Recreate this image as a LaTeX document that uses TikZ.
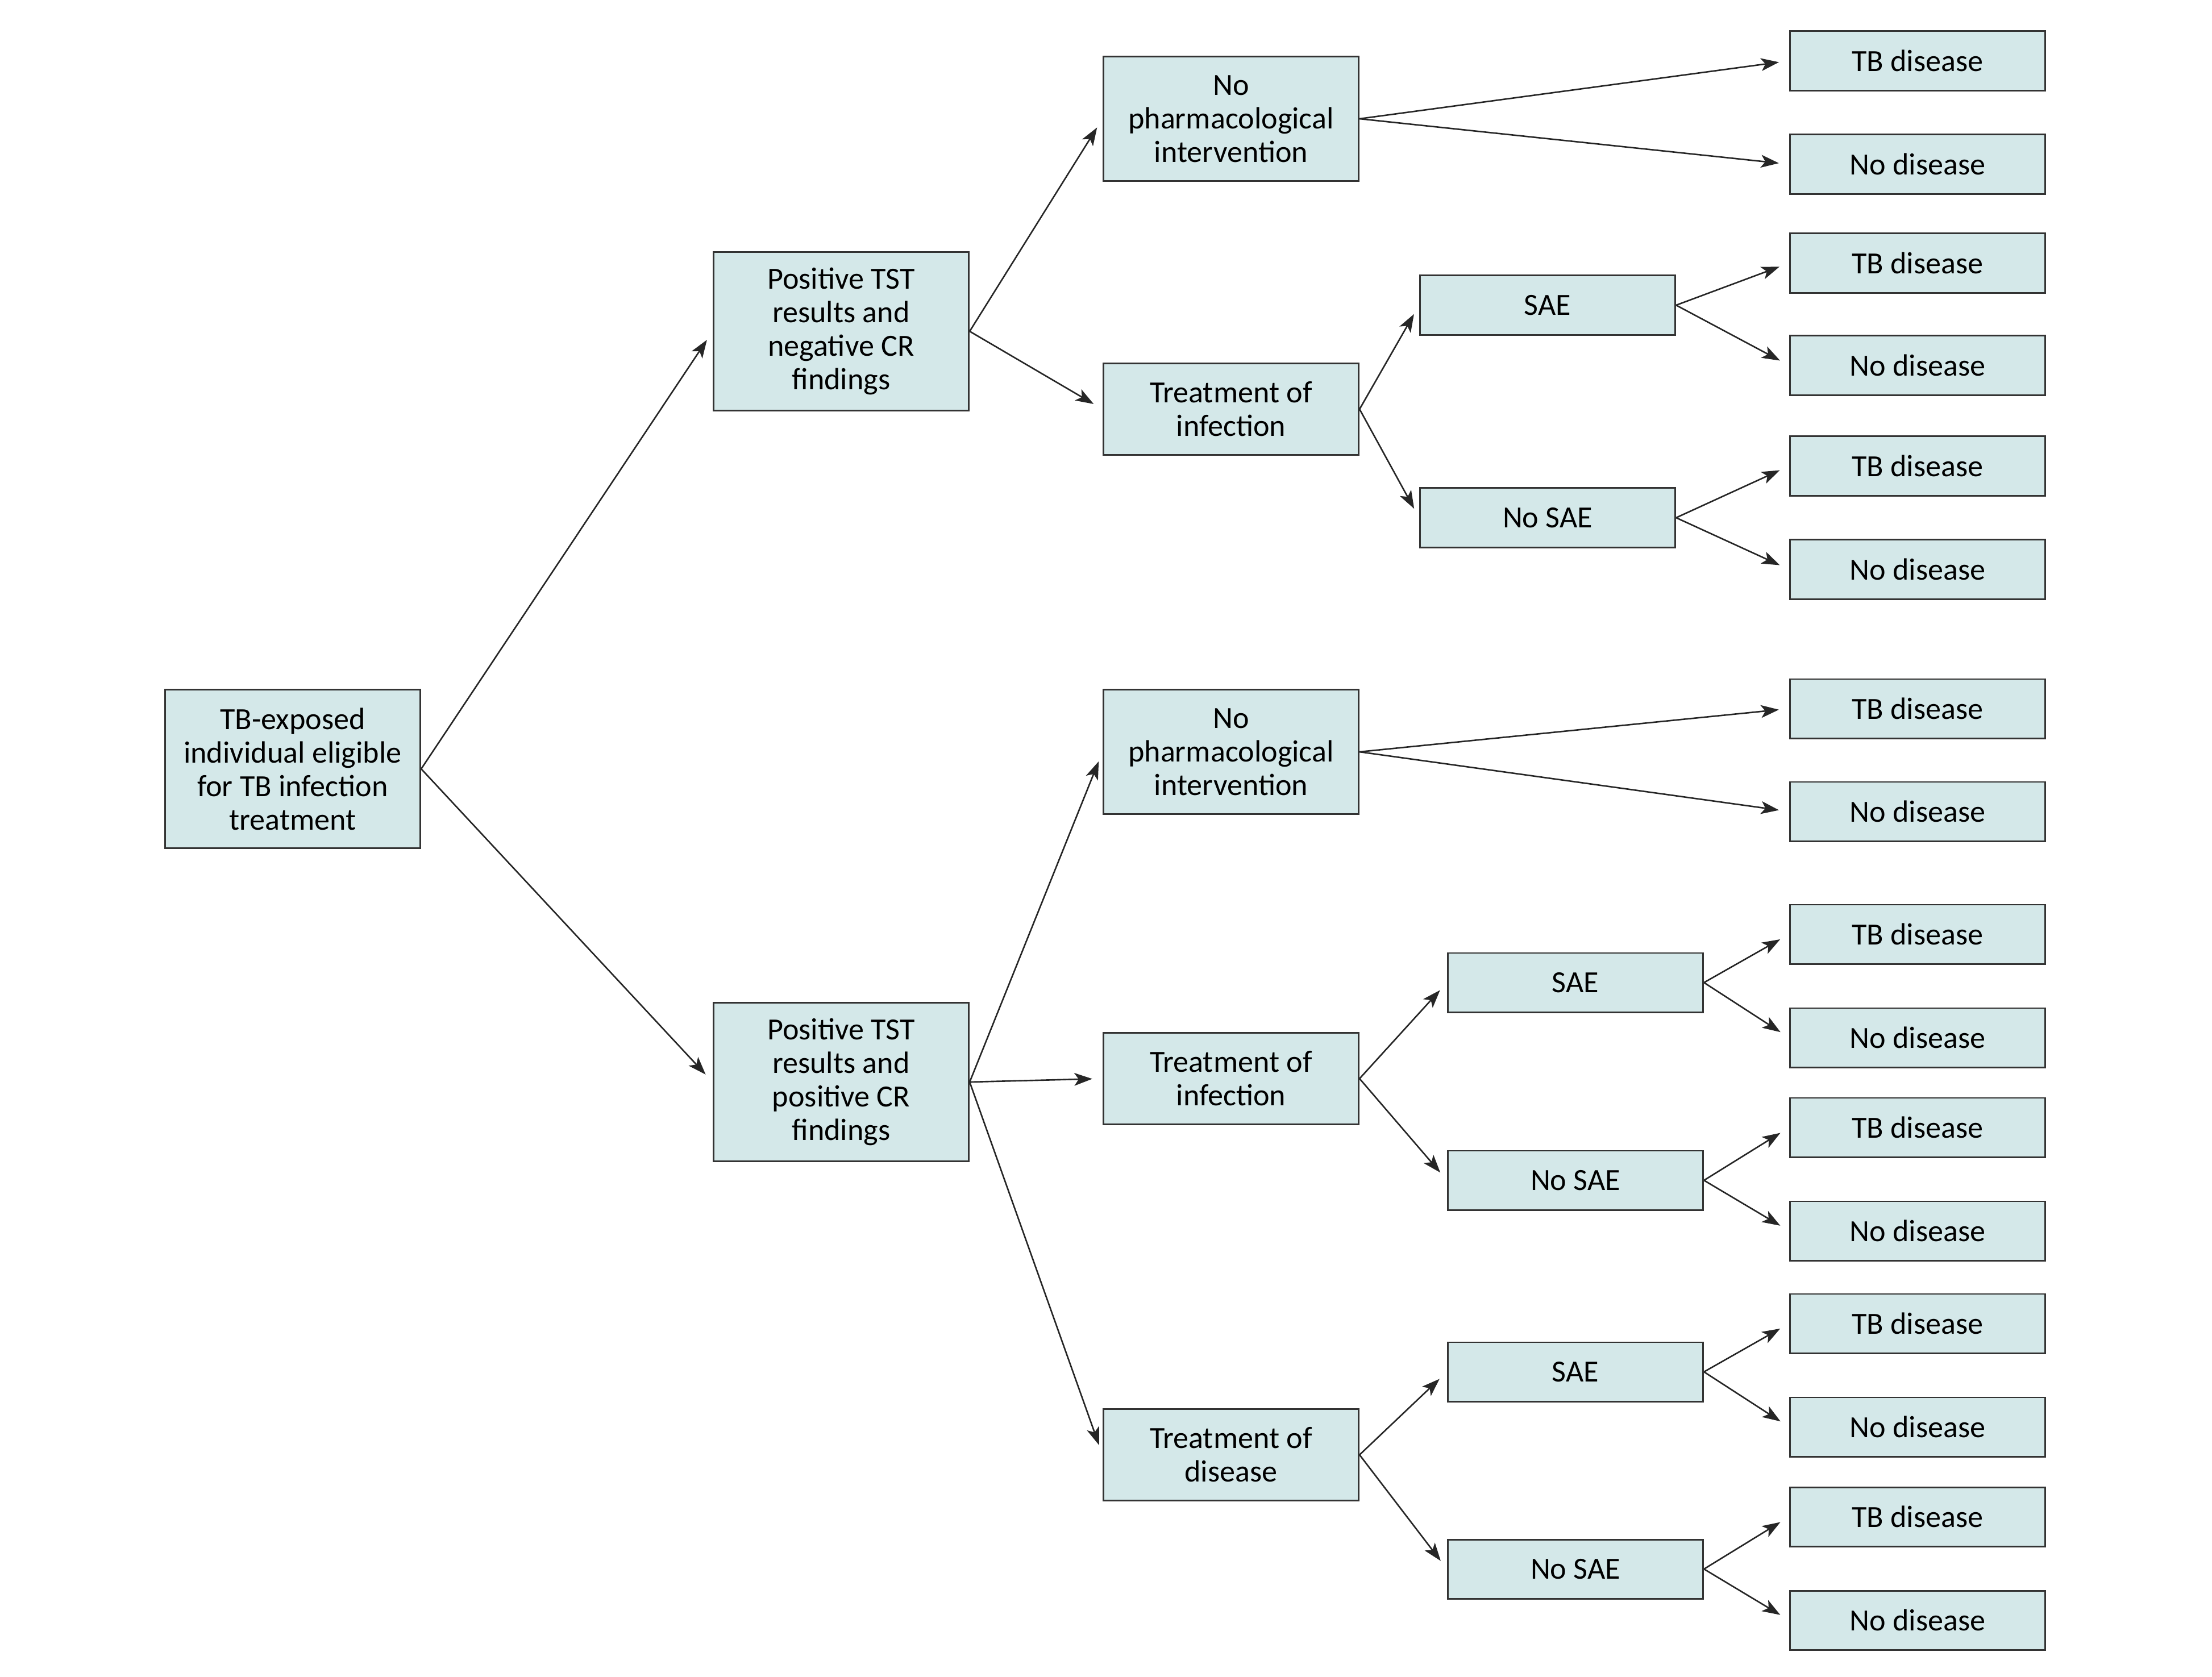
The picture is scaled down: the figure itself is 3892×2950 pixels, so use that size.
\documentclass[tikz,border=0pt]{standalone}
\usepackage{fontspec}
\setmainfont{Carlito}
\usetikzlibrary{arrows.meta}

\definecolor{boxFill}{HTML}{D4E8E9}
\colorlet{boxLine}{black!80}
\colorlet{arrLine}{black!85}

\tikzset{
  box/.style={draw=boxLine, line width=0.85pt, fill=boxFill, align=center,
              minimum width=4.49cm, inner sep=2pt,
              font=\fontsize{15.4}{16.8}\selectfont},
  leaf/.style={box, minimum height=1.04cm},
  arr/.style={draw=arrLine, line width=0.75pt, shorten >=0.18cm,
              -{Stealth[length=9pt, width=6.4pt, inset=2.2pt]}}
}

\begin{document}
\begin{tikzpicture}[x=0.01cm, y=-0.01cm]
        \useasboundingbox (0,0) rectangle (3892,2950);
        % root and test results
        \node[box, minimum height=2.78cm] (root) at (515,1353)
              {TB-exposed\\individual eligible\\for TB infection\\treatment};
        \node[box, minimum height=2.78cm] (p1) at (1480,583)
              {Positive TST\\results and\\negative CR\\findings};
        \node[box, minimum height=2.78cm] (p2) at (1480,1904)
              {Positive TST\\results and\\positive CR\\findings};
        % interventions
        \node[box, minimum height=2.18cm] (np1) at (2166,209)
              {No\\pharmacological\\intervention};
        \node[box, minimum height=1.61cm] (ti1) at (2166,720)
              {Treatment of\\infection};
        \node[box, minimum height=2.18cm] (np2) at (2166,1323)
              {No\\pharmacological\\intervention};
        \node[box, minimum height=1.61cm] (ti2) at (2166,1898)
              {Treatment of\\infection};
        \node[box, minimum height=1.61cm] (td2) at (2166,2560)
              {Treatment of\\disease};
        % adverse events
        \node[leaf] (sae1)  at (2723,537)  {SAE};
        \node[leaf] (nsae1) at (2723,911)  {No SAE};
        \node[leaf] (sae2)  at (2772,1729) {SAE};
        \node[leaf] (nsae2) at (2772,2077) {No SAE};
        \node[leaf] (sae3)  at (2772,2414) {SAE};
        \node[leaf] (nsae3) at (2772,2761) {No SAE};
        % outcomes
        \foreach \y [count=\i] in {107,289,463,643,820,1002,1247,1428,
                                   1644,1826,1984,2166,2329,2511,2669,2851}
          \node[leaf] (l\i) at (3374,\y) {\ifodd\i TB disease\else No disease\fi};
        % connectors
        \foreach \a/\b in {root/p1, root/p2, p1/np1, p1/ti1, p2/np2, p2/ti2, p2/td2,
                           np1/l1, np1/l2, ti1/sae1, ti1/nsae1, sae1/l3, sae1/l4,
                           nsae1/l5, nsae1/l6, np2/l7, np2/l8, ti2/sae2, ti2/nsae2,
                           sae2/l9, sae2/l10, nsae2/l11, nsae2/l12, td2/sae3,
                           td2/nsae3, sae3/l13, sae3/l14, nsae3/l15, nsae3/l16}
          \draw[arr] (\a.east) -- (\b.west);
      \end{tikzpicture}
\end{document}
